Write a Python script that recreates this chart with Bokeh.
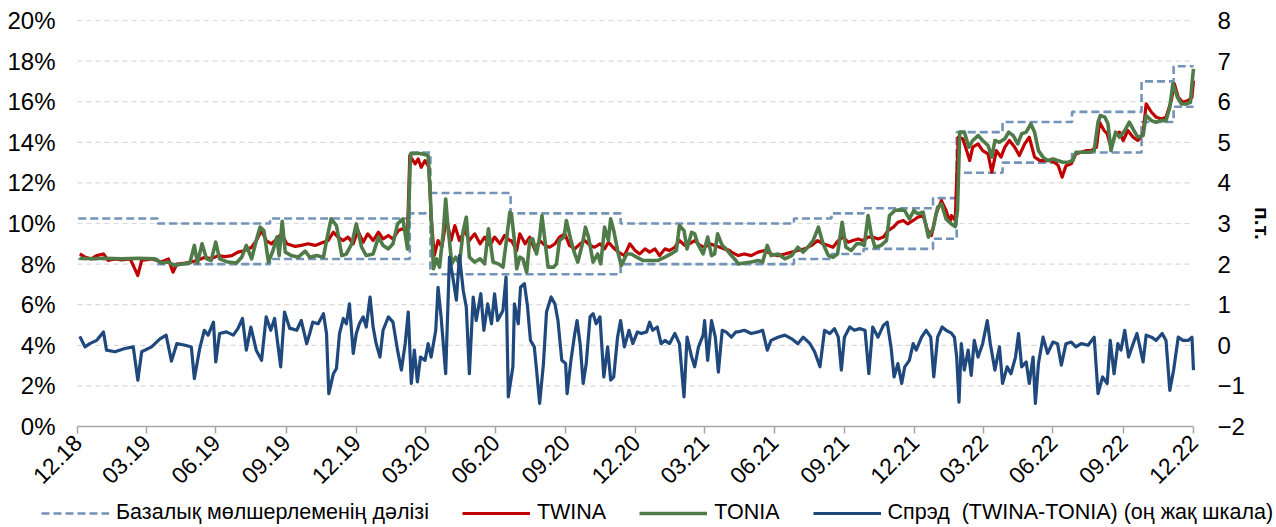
import math
import pandas as pd
from bokeh.plotting import figure
from bokeh.models import (Range1d, LinearAxis, FixedTicker, DatetimeTickFormatter,
                          PrintfTickFormatter, Legend, LegendItem, ColumnDataSource)
from bokeh.embed import file_html
from bokeh.resources import INLINE

BASE = pd.Timestamp("2019-01-01")

# ---- policy-rate corridor (step changes) ----
corridor_dates = ["2019-01-01", "2019-04-15", "2019-09-09", "2020-03-10", "2020-04-06",
                  "2020-07-20", "2020-12-11", "2021-07-26", "2021-09-13", "2021-10-25",
                  "2022-01-24", "2022-02-24", "2022-04-25", "2022-07-25", "2022-10-24",
                  "2022-12-05", "2022-12-31"]
corridor_upper = [10.25, 10.0, 10.25, 13.5, 11.5, 10.5, 10.0, 10.25, 10.5, 10.75,
                  11.25, 14.5, 15.0, 15.5, 17.0, 17.75, 17.75]
corridor_lower = [8.25, 8.0, 8.25, 10.5, 7.5, 7.5, 8.0, 8.25, 8.5, 8.75,
                  9.25, 12.5, 13.0, 13.5, 15.0, 15.75, 15.75]

# ---- TWINA (days since 2019-01-01, %) ----
twina_day = [2, 9, 17, 24, 33, 39, 48, 57, 68, 78, 83, 96, 109, 118, 124, 129, 140, 148, 157, 166,
             174, 183, 192, 201, 209, 218, 227, 233, 240, 246, 253, 260, 266, 273,
             284, 292, 301, 310, 321, 327, 334, 340, 347, 353, 360, 366, 373, 379, 386, 393, 399,
             406, 412, 419, 425, 431, 434, 441, 445, 449, 454, 459, 462, 466, 471, 476, 482, 488,
             493, 499, 506, 512, 519, 526, 532, 539, 545, 552, 558, 565,
             567, 574, 578, 585, 591, 598, 604, 611, 617, 624, 630, 637, 643, 650, 657, 663, 670,
             676, 683, 689, 694, 700, 707, 715, 722, 729, 735, 742, 748, 755, 761, 768, 774, 781,
             787, 794, 800, 807, 814, 820, 827, 833, 840, 846, 853,
             855, 864, 872, 881, 890, 899, 907, 916, 925, 934, 942, 951, 960, 968, 975, 982, 988,
             995, 1001, 1008, 1014, 1021, 1027, 1034, 1040, 1047, 1054, 1060, 1067, 1073, 1080,
             1086, 1093, 1099, 1106, 1112, 1117, 1123, 1130, 1136, 1141,
             1143, 1148, 1152, 1158, 1163, 1167, 1171, 1178, 1184, 1191, 1196, 1202, 1208, 1213,
             1219, 1226, 1232, 1239, 1245, 1252, 1259, 1265, 1272, 1278, 1283, 1288, 1293, 1300,
             1306, 1313, 1320, 1326, 1333, 1337, 1343, 1347, 1352, 1358, 1363, 1368, 1374, 1381,
             1387, 1394, 1398, 1405, 1411, 1418, 1424, 1431, 1435, 1440, 1446, 1453, 1458, 1460]
twina_val = [8.50, 8.34, 8.26, 8.42, 8.50, 8.18, 8.26, 8.21, 8.26, 7.44, 8.18, 8.26, 8.10, 8.26,
             7.60, 8.00, 8.05, 8.10, 8.20, 8.34, 8.26, 8.42, 8.37, 8.42, 8.59, 8.67, 8.83, 9.16,
             9.65, 9.16, 9.00, 9.24, 9.49, 9.00,
             8.87, 8.92, 9.00, 8.92, 9.08, 9.16, 9.57, 9.33, 9.16, 9.33, 9.00, 9.65, 9.08, 9.49,
             9.16, 9.57, 9.24, 9.41, 9.24, 9.65, 9.74, 9.49, 13.35, 12.94, 13.18, 12.77, 13.10,
             12.77, 10.31, 8.42, 9.16, 8.83, 10.23, 9.16, 9.90, 9.16, 9.65, 9.16, 9.49, 9.00, 9.33,
             8.92, 9.33, 9.00, 9.41, 9.16,
             9.16, 8.67, 9.49, 9.00, 9.33, 8.67, 9.16, 8.92, 8.83, 9.00, 9.33, 9.49, 8.92, 8.75,
             9.00, 9.16, 8.92, 8.83, 9.00, 8.75, 9.08, 8.83, 8.59, 8.42, 9.00, 8.67, 8.50, 8.75,
             8.59, 8.75, 8.42, 8.75, 8.67, 8.83, 9.16, 8.92, 9.00, 9.16, 8.92, 8.83, 9.00, 8.92,
             8.83, 8.75, 8.67,
             8.59, 8.42, 8.50, 8.42, 8.59, 8.67, 8.50, 8.42, 8.50, 8.59, 8.67, 8.75, 8.92, 9.16,
             9.00, 8.92, 8.83, 9.16, 9.33, 9.08, 9.16, 9.24, 9.16, 9.33, 9.33, 9.24, 9.33, 9.65,
             9.82, 10.06, 10.15, 9.98, 10.15, 10.31, 10.39, 9.65, 9.41, 10.48, 11.13, 10.64, 10.06,
             10.39, 10.15, 14.25, 14.17, 13.59, 13.10, 13.76, 13.92, 13.59, 13.43, 12.53, 13.59,
             13.27, 13.76, 14.09, 13.76, 13.35, 13.92, 14.25, 13.27, 13.10, 13.10, 13.10, 13.02,
             12.85, 12.28, 12.85, 12.94, 13.43, 13.51, 13.59, 13.59, 13.76, 14.99, 14.58, 14.42,
             13.76, 14.42, 14.50, 14.09, 14.58, 14.25, 14.09, 14.42, 15.89, 15.48, 15.24, 15.15,
             15.24, 16.06, 16.88, 16.22, 15.97, 16.06, 16.22, 17.04]

# ---- TONIA (days since 2019-01-01, %) ----
tonia_day = [2, 17, 35, 57, 78, 100, 109, 118, 126, 135, 146, 152, 156, 162, 168, 174, 180, 185,
             196, 207, 214, 220, 227, 233, 238, 243, 249, 255, 260, 263, 267, 271, 279,
             288, 297, 303, 312, 321, 325, 331, 338, 345, 351, 358, 364, 371, 377, 386, 393, 399,
             406, 412, 418, 425, 431, 435, 445, 454, 458, 461, 465, 469, 473, 478, 481, 484, 489,
             494, 499, 504, 508, 512, 519, 526, 532, 537, 543, 550, 556, 560, 565,
             567, 571, 574, 578, 582, 587, 591, 595, 600, 604, 607, 611, 615, 622, 626, 630, 636,
             639, 645, 650, 654, 660, 664, 668, 674, 680, 684, 689, 694, 697, 701, 707, 711, 718,
             724, 731, 739, 750, 759, 768, 776, 783, 787, 793, 797, 803, 807, 811, 818, 824, 829,
             833, 837, 843, 848, 855, 861,
             864, 872, 881, 890, 896, 902, 907, 916, 925, 934, 942, 949, 955, 962, 969, 975, 982,
             988, 994, 1000, 1005, 1012, 1019, 1025, 1029, 1034, 1038, 1043, 1051, 1058, 1062,
             1069, 1075, 1082, 1088, 1094, 1099, 1106, 1113, 1119, 1125, 1130, 1136, 1143, 1148,
             1151, 1154,
             1160, 1166, 1171, 1178, 1184, 1191, 1196, 1200, 1206, 1213, 1218, 1224, 1230, 1235,
             1241, 1247, 1252, 1257, 1263, 1269, 1276, 1282, 1289, 1296, 1302, 1306, 1315, 1324,
             1330, 1335, 1338, 1344, 1348, 1352, 1358, 1363, 1370, 1376, 1382, 1387, 1394, 1398,
             1405, 1411, 1418, 1424, 1429, 1433, 1439, 1444, 1450, 1456, 1458, 1460]
tonia_val = [8.29, 8.26, 8.29, 8.26, 8.29, 8.26, 8.05, 8.10, 7.93, 8.00, 8.05, 8.92, 8.05, 9.00,
             8.26, 8.18, 9.08, 8.26, 8.10, 8.05, 8.34, 8.92, 8.26, 9.16, 9.82, 9.65, 8.10, 8.67,
             9.33, 8.42, 10.11, 8.59, 8.42,
             8.34, 8.64, 8.34, 8.42, 8.34, 9.16, 10.23, 9.90, 8.42, 8.50, 9.00, 9.98, 8.83, 8.42,
             8.50, 9.33, 8.92, 8.75, 9.00, 9.98, 10.23, 8.75, 13.43, 13.46, 13.40, 13.35, 11.30,
             7.77, 8.26, 7.85, 9.65, 11.21, 9.82, 8.01, 8.34, 8.01, 9.65, 10.31, 8.34, 8.10, 8.26,
             8.01, 9.74, 8.10, 8.01, 7.85, 9.00, 10.56,
             10.48, 9.16, 7.77, 8.34, 8.26, 7.60, 9.16, 9.24, 8.50, 9.33, 10.39, 9.16, 7.85, 7.85,
             8.01, 9.16, 9.33, 10.15, 9.16, 8.50, 8.10, 9.00, 9.82, 9.33, 8.10, 8.50, 8.01, 9.82,
             9.16, 10.23, 9.65, 8.50, 7.93, 8.50, 8.50, 8.34, 8.18, 8.18, 8.18, 8.34, 8.50, 8.67,
             9.90, 9.65, 8.75, 9.57, 9.49, 9.00, 8.50, 9.33, 8.42, 8.50, 9.49, 8.92, 8.75, 8.42,
             8.18,
             8.01, 8.05, 8.10, 8.18, 8.10, 8.92, 8.42, 8.50, 8.26, 8.42, 8.83, 8.59, 8.83, 9.16,
             9.82, 9.00, 8.42, 8.34, 8.50, 10.06, 8.83, 8.67, 9.00, 9.00, 8.92, 10.39, 9.49, 8.83,
             8.92, 9.16, 10.39, 10.64, 10.67, 10.64, 10.23, 10.64, 10.48, 10.56, 9.33, 9.74, 10.80,
             10.97, 10.23, 9.98, 9.85, 10.64, 14.50,
             14.50, 13.76, 14.09, 14.33, 14.09, 13.84, 13.27, 14.09, 14.00, 14.17, 14.50, 14.33,
             13.92, 14.42, 14.50, 14.91, 14.50, 13.59, 13.27, 13.10, 13.18, 13.10, 13.02, 13.02,
             13.10, 13.51, 13.51, 13.51, 13.59, 14.99, 15.32, 15.24, 14.91, 13.59, 14.50, 14.25,
             14.58, 14.99, 14.58, 14.25, 14.33, 15.32, 15.07, 14.99, 15.07, 15.07, 15.73, 16.88,
             16.22, 15.89, 15.89, 15.97, 16.88, 17.62]

# ---- Spread TWINA-TONIA (days since 2019-01-01, p.p.) ----
spread_day = [2, 9, 15, 24, 33, 37, 48, 61, 72, 78, 83, 96, 107, 115, 122, 129, 140, 148, 152, 159,
              165, 170, 177, 180, 185, 194, 203, 209, 215, 220, 226, 233, 240, 246, 252, 257, 265,
              270, 277,
              279, 286, 292, 299, 303, 307, 314, 321, 325, 328, 334, 338, 342, 347, 351, 355, 360,
              364, 368, 373, 377, 382, 386, 390, 395, 399, 406, 412, 418, 423, 428, 432, 436, 440,
              444, 448, 454, 458, 462, 468, 471, 475, 481, 486, 491, 495, 499, 504, 508, 512, 517,
              521, 527, 531, 536, 541, 545, 549, 556, 560, 563, 569,
              571, 576, 579, 584, 588, 592, 597, 600, 604, 609, 613, 619, 624, 628, 633, 638, 640,
              645, 650, 653, 657, 661, 665, 670, 674, 678, 683, 688, 693, 697, 701, 706, 710, 715,
              721, 726, 732, 737, 744, 748, 752, 758, 763, 768, 774, 781, 787, 793, 797, 803, 807,
              812, 818, 820, 824, 829, 834, 838, 843, 848, 855, 861,
              864, 872, 881, 890, 896, 902, 907, 916, 925, 934, 942, 949, 958, 964, 971, 977, 984,
              990, 995, 999, 1003, 1010, 1016, 1023, 1030, 1035, 1040, 1047, 1054, 1059, 1064, 1068,
              1073, 1078, 1082, 1088, 1093, 1097, 1104, 1110, 1116, 1120, 1125, 1131, 1136, 1143,
              1147, 1150, 1153,
              1156, 1160, 1165, 1169, 1173, 1178, 1184, 1190, 1194, 1200, 1206, 1210, 1216, 1221,
              1227, 1231, 1235, 1241, 1245, 1250, 1253, 1257, 1263, 1269, 1276, 1282, 1287, 1293,
              1300, 1306, 1313, 1322, 1330, 1335, 1341, 1347, 1351, 1356, 1361, 1365, 1370, 1375,
              1381, 1386, 1394, 1398, 1405, 1411, 1419, 1424, 1429, 1434, 1440, 1446, 1453, 1458,
              1460]
spread_val = [0.22, -0.04, 0.04, 0.12, 0.33, -0.12, -0.16, -0.08, -0.04, -0.86, -0.16, -0.04, 0.16,
              0.25, -0.39, 0.04, 0.00, -0.04, -0.82, -0.08, 0.37, 0.25, 0.57, -0.41, 0.29, 0.33,
              0.25, 0.41, 0.66, -0.12, 0.45, -0.12, -0.37, 0.70, 0.37, 0.66, -0.53, 0.82, 0.41,
              0.41, 0.37, 0.61, 0.04, 0.29, 0.57, 0.53, 0.78, 0.29, -1.19, -0.70, -0.57, 0.29, 0.66,
              0.53, 1.02, -0.20, 0.29, 0.53, 0.70, 0.45, 1.19, 0.45, 0.04, -0.29, 0.37, 0.70, 0.57,
              -0.12, -0.61, 0.04, 0.82, -0.94, -0.12, -0.90, -0.29, -0.37, 0.04, -0.29, 0.37, 1.43,
              0.70, -0.70, 2.17, 1.60, 1.11, 2.21, 1.35, 0.94, -0.70, 1.19, 0.61, 1.27, 0.37, 1.02,
              0.53, 1.27, 0.61, 0.86, 1.68, -1.27, -0.53,
              1.02, 0.53, 1.43, 1.52, 0.98, 0.12, -0.04, -0.61, -1.43, -0.45, 0.82, 1.19, 1.02, 0.61,
              -0.37, -0.45, -1.19, -0.37, 0.29, 0.61, 0.04, -0.94, -0.45, 0.70, 0.78, 0.53, 0.70,
              -0.78, -0.04, -0.86, -0.78, 0.20, 0.61, -0.04, 0.37, 0.04, 0.33, 0.29, 0.33, 0.57,
              0.37, 0.45, 0.04, 0.12, 0.04, 0.29, 0.04, -1.27, 0.20, -0.29, -0.53, -0.04, 0.25, 0.61,
              -0.37, 0.61, 0.20, -0.66, 0.37, 0.33, 0.20, 0.33,
              0.33, 0.37, 0.29, 0.33, 0.37, -0.12, 0.12, 0.20, 0.25, 0.16, 0.04, 0.20, 0.04, -0.16,
              -0.53, 0.37, 0.29, 0.41, 0.20, -0.61, 0.20, 0.45, 0.37, 0.41, 0.37, -0.70, 0.45, 0.20,
              0.49, 0.57, -0.04, -0.78, -0.45, -0.94, -0.53, -0.37, 0.04, -0.12, 0.20, 0.37, 0.20,
              -0.78, 0.20, 0.45, 0.37, 0.30, 0.20, -0.29, -1.40,
              0.04, -0.61, -0.12, -0.74, 0.12, -0.29, 0.04, 0.61, 0.04, -0.61, -0.04, -0.94, -0.53,
              -0.70, -0.29, 0.29, -0.53, -0.41, -0.94, -0.29, -1.43, -0.45, 0.20, -0.20, 0.08, 0.04,
              -0.49, 0.04, 0.08, -0.04, 0.04, 0.00, 0.20, -1.19, -0.78, -0.94, 0.12, -0.70, 0.04,
              -0.12, 0.37, -0.29, 0.04, 0.29, -0.41, 0.25, 0.20, 0.12, 0.29, 0.12, -1.11, -0.61,
              0.20, 0.12, 0.12, 0.20, -0.61]

# axis labels / ticks
quarter_ends = pd.date_range("2018-12-31", "2022-12-31", freq="QE")
left_ticks = list(range(0, 21, 2))
right_ticks = list(range(-2, 9))
legend_labels = ["Базалық мөлшерлеменің дәлізі", "TWINA", "TONIA",
                 "Спрэд  (TWINA-TONIA) (оң жақ шкала)"]


def to_dates(days):
    return [BASE + pd.Timedelta(days=int(d)) for d in days]


def ms(ts):
    return float(pd.Timestamp(ts).value // 10**6)


FONT = "Liberation Sans"
C_CORR = "#7393b8"
C_TWINA = "#c00000"
C_TONIA = "#4f7b48"
C_SPREAD = "#1f487c"

# ---- layout in pixels: the frame fills the page, plot area = 77..1193 x 20..426 ----
PLOT_L, PLOT_R, PLOT_T, PLOT_B = 77, 1193, 20, 426
PAGE_W, PAGE_H = 1276, 527
x0, x1 = ms(quarter_ends[0]), ms(quarter_ends[-1])
ms_per_px = (x1 - x0) / (PLOT_R - PLOT_L)
pct_per_px = 20.0 / (PLOT_B - PLOT_T)
pp_per_px = 10.0 / (PLOT_B - PLOT_T)
x_start = x0 - PLOT_L * ms_per_px
x_end = x1 + (PAGE_W - PLOT_R) * ms_per_px
y_top = 20 + PLOT_T * pct_per_px
y_start = 0 - (PAGE_H - PLOT_B) * pct_per_px
y2_top = 8 + PLOT_T * pp_per_px
y2_start = -2 - (PAGE_H - PLOT_B) * pp_per_px

p = figure(frame_width=PAGE_W, frame_height=PAGE_H, x_axis_type="datetime",
           x_range=Range1d(x_start, x_end), y_range=Range1d(y_start, y_top),
           output_backend="svg", toolbar_location=None,
           min_border_left=0, min_border_right=0, min_border_top=0, min_border_bottom=0)
p.outline_line_color = None
p.background_fill_color = "white"
p.border_fill_color = "white"
p.extra_y_ranges = {"spread": Range1d(y2_start, y2_top)}

# dashed horizontal gridlines limited to the plot area
p.xgrid.visible = False
p.ygrid.visible = False
p.segment(x0=[x0] * len(left_ticks), x1=[x1] * len(left_ticks), y0=left_ticks, y1=left_ticks,
          line_color="#d9d9d9", line_dash="5 4", line_width=1.2, level="underlay")

# left axis, drawn at the start of the period
ya = p.yaxis[0]
ya.fixed_location = x0
ya.bounds = (0, 20)
ya.ticker = FixedTicker(ticks=left_ticks)
ya.formatter = PrintfTickFormatter(format="%d%%")
ya.axis_line_color = None
ya.major_tick_line_color = None
ya.major_tick_out = 0
ya.major_tick_in = 0
ya.minor_tick_line_color = None
ya.minor_tick_out = 0
ya.major_label_text_font = FONT
ya.major_label_text_font_size = "24px"
ya.major_label_text_color = "#000000"
ya.major_label_standoff = 22

# bottom axis, drawn at 0%
xa = p.xaxis[0]
xa.fixed_location = 0
xa.bounds = (x0, x1)
xa.ticker = FixedTicker(ticks=[ms(t) for t in quarter_ends])
fmt = "%m.%y"
xa.formatter = DatetimeTickFormatter(days=fmt, months=fmt, years=fmt, hours=fmt, hourmin=fmt,
                                     minutes=fmt, minsec=fmt, seconds=fmt, milliseconds=fmt,
                                     microseconds=fmt, context=None)
xa.axis_line_color = "#a6a6a6"
xa.axis_line_width = 1.5
xa.major_tick_line_color = "#a6a6a6"
xa.major_tick_line_width = 1.5
xa.major_tick_out = 7
xa.major_tick_in = 0
xa.minor_tick_line_color = None
xa.minor_tick_out = 0
xa.major_label_orientation = math.pi / 4
xa.major_label_text_font = FONT
xa.major_label_text_font_size = "23px"
xa.major_label_text_color = "#000000"
xa.major_label_standoff = 5

# right axis, drawn at the end of the period
ra = LinearAxis(y_range_name="spread", ticker=FixedTicker(ticks=right_ticks),
                axis_label="п.т.", fixed_location=x1, bounds=(-2, 8))
ra.axis_line_color = None
ra.major_tick_line_color = None
ra.major_tick_out = 0
ra.major_tick_in = 0
ra.minor_tick_line_color = None
ra.minor_tick_out = 0
ra.major_label_text_font = FONT
ra.major_label_text_font_size = "24px"
ra.major_label_text_color = "#000000"
ra.major_label_standoff = 24
ra.axis_label_text_font = FONT
ra.axis_label_text_font_size = "21px"
ra.axis_label_text_font_style = "bold"
ra.axis_label_text_color = "#000000"
ra.axis_label_standoff = 3
p.add_layout(ra, "right")

# corridor
cdates = pd.to_datetime(corridor_dates)
r_up = p.step(cdates, corridor_upper, mode="after", line_color=C_CORR, line_width=2.6,
              line_dash="8 4")
r_lo = p.step(cdates, corridor_lower, mode="after", line_color=C_CORR, line_width=2.6,
              line_dash="8 4")

src_tw = ColumnDataSource(dict(x=to_dates(twina_day), y=twina_val))
src_to = ColumnDataSource(dict(x=to_dates(tonia_day), y=tonia_val))
src_sp = ColumnDataSource(dict(x=to_dates(spread_day), y=spread_val))

r_tw = p.line("x", "y", source=src_tw, line_color=C_TWINA, line_width=3.2, line_join="round")
r_to = p.line("x", "y", source=src_to, line_color=C_TONIA, line_width=3.6, line_join="round")
r_sp = p.line("x", "y", source=src_sp, line_color=C_SPREAD, line_width=3.2, line_join="round",
              y_range_name="spread")

legend = Legend(items=[LegendItem(label=legend_labels[0], renderers=[r_up]),
                       LegendItem(label=legend_labels[1], renderers=[r_tw]),
                       LegendItem(label=legend_labels[2], renderers=[r_to]),
                       LegendItem(label=legend_labels[3], renderers=[r_sp])],
                location=(41, 2), orientation="horizontal",
                glyph_width=68, glyph_height=20, label_standoff=7, spacing=33,
                padding=0, margin=0, border_line_color=None, background_fill_alpha=0,
                label_text_font=FONT, label_text_font_size="21.5px", label_text_color="#000000")
p.add_layout(legend, "center")

open("out.html", "w").write(file_html(p, INLINE))
